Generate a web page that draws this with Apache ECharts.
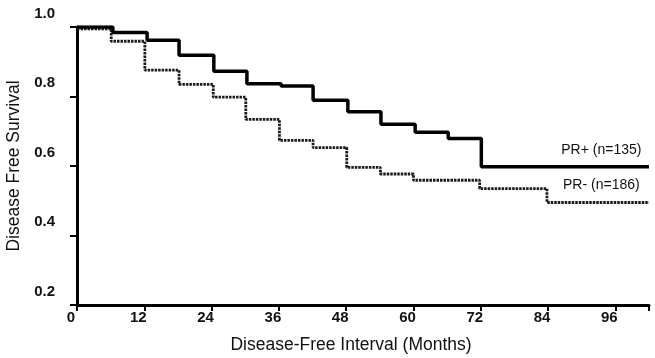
<!DOCTYPE html>
<html><head><meta charset="utf-8">
<script src="https://cdn.jsdelivr.net/npm/echarts@6/dist/echarts.min.js"></script>
<style>html,body{margin:0;padding:0;background:#fff}#c{width:655px;height:358px}</style>
</head><body><div id="c"></div>
<script>
// Kaplan-Meier step data (months, survival)
var posTimes = [0, 6.4, 12.5, 18.2, 24.4, 30.3, 36.4, 42.1, 48.3, 54.2, 60.3, 66.2, 72.1, 102];
var posSurv  = [1.0, 0.984, 0.962, 0.919, 0.873, 0.837, 0.830, 0.789, 0.756, 0.720, 0.697, 0.679, 0.598, 0.598];
var negTimes = [0, 6.1, 12.1, 18.2, 24.3, 30.1, 36.1, 42.1, 48.1, 54.1, 60.0, 71.8, 83.8, 102];
var negSurv  = [0.995, 0.959, 0.876, 0.835, 0.798, 0.734, 0.674, 0.653, 0.596, 0.577, 0.559, 0.535, 0.495, 0.495];
var xTicks = [0, 12, 24, 36, 48, 60, 72, 84, 96];
var yTicks = [0.2, 0.4, 0.6, 0.8, 1.0];
var seriesNames = ['PR+ (n=135)', 'PR- (n=186)'];

function pairs(t, s) { return t.map(function (v, i) { return [v, s[i]]; }); }

var chart = echarts.init(document.getElementById('c'), null, {renderer: 'canvas'});
var font = 'Liberation Sans, Arial, sans-serif';
chart.setOption({
  animation: false,
  backgroundColor: '#fff',
  grid: {left: 77, right: 6, top: 27, bottom: 53, containLabel: false, outerBoundsMode: 'none'},
  xAxis: {
    type: 'value', min: 0, max: 102, interval: 12,
    name: 'Disease-Free Interval (Months)', nameLocation: 'middle', nameGap: 31,
    nameTextStyle: {fontFamily: font, fontSize: 17.5, color: '#111', padding: [0, 24, 0, 0]},
    axisLine: {show: true, lineStyle: {color: '#000', width: 3}},
    axisTick: {show: true, inside: false, length: 6, lineStyle: {color: '#000', width: 2}},
    axisLabel: {fontFamily: font, fontSize: 15, fontWeight: 'bold', color: '#111', margin: 5,
      padding: [0, 12, 0, 0],
      formatter: function (v) { return xTicks.indexOf(v) >= 0 ? String(v) : ''; }},
    splitLine: {show: false}
  },
  yAxis: {
    type: 'value', min: 0.2, max: 1.0, interval: 0.2,
    name: 'Disease Free Survival', nameLocation: 'middle', nameGap: 46,
    nameTextStyle: {fontFamily: font, fontSize: 17.5, color: '#111'},
    axisLine: {show: true, lineStyle: {color: '#000', width: 3}},
    axisTick: {show: true, inside: false, length: 7, lineStyle: {color: '#000', width: 2}},
    axisLabel: {fontFamily: font, fontSize: 15, fontWeight: 'bold', color: '#111', margin: 22,
      verticalAlign: 'bottom', padding: [0, 0, 6, 0],
      formatter: function (v) {
        for (var i = 0; i < yTicks.length; i++) if (Math.abs(v - yTicks[i]) < 1e-6) return yTicks[i].toFixed(1);
        return '';
      }},
    splitLine: {show: false}
  },
  series: [
    {
      name: seriesNames[1], type: 'line', step: 'end', symbol: 'none', z: 2,
      data: pairs(negTimes, negSurv),
      lineStyle: {color: '#1a1a1a', width: 2.8, type: [2.5, 1]},
      markPoint: {symbol: 'circle', symbolSize: 0, silent: true,
        data: [{coord: [93.5, 0.545], label: {show: true, formatter: seriesNames[1], fontFamily: font, fontSize: 14, color: '#111', position: 'inside'}}]}
    },
    {
      name: seriesNames[0], type: 'line', step: 'end', symbol: 'none', z: 3,
      data: pairs(posTimes, posSurv),
      lineStyle: {color: '#000', width: 3.5},
      markPoint: {symbol: 'circle', symbolSize: 0, silent: true,
        data: [{coord: [93.5, 0.646], label: {show: true, formatter: seriesNames[0], fontFamily: font, fontSize: 14, color: '#111', position: 'inside'}}]}
    }
  ]
});
</script>
</body></html>
